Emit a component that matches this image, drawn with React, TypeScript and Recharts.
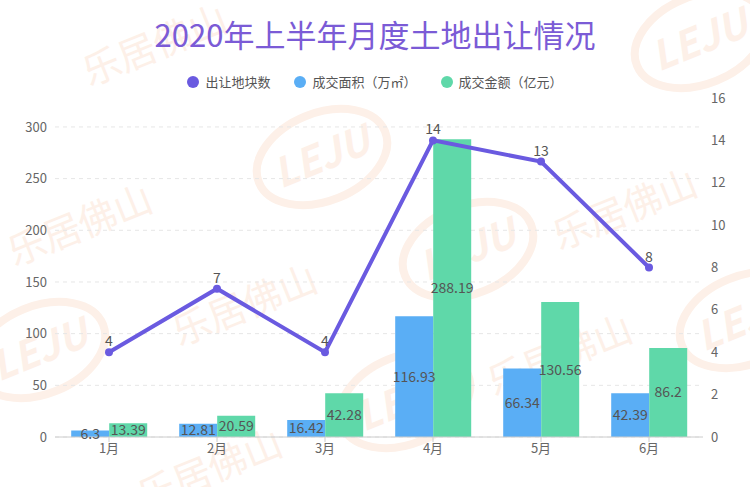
import React from "react";
import {
  ComposedChart,
  Bar,
  Line,
  XAxis,
  YAxis,
  CartesianGrid,
  LabelList,
} from "recharts";

const months = ["1月", "2月", "3月", "4月", "5月", "6月"];
const plots = [4, 7, 4, 14, 13, 8];
const area = [6.3, 12.81, 16.42, 116.93, 66.34, 42.39];
const amount = [13.39, 20.59, 42.28, 288.19, 130.56, 86.2];
const leftTicks = [0, 50, 100, 150, 200, 250, 300];
const rightTicks = [0, 2, 4, 6, 8, 10, 12, 14, 16];

const PURPLE = "#6a5ae0";
const BLUE = "#5aaef5";
const GREEN = "#5fd8a9";
const FONT = '"Noto Sans CJK SC", "Noto Sans", sans-serif';

const data = months.map((m, i) => ({
  month: m,
  plots: plots[i],
  area: area[i],
  amount: amount[i],
}));

const legendItems = [
  { name: "出让地块数", color: PURPLE },
  { name: "成交面积（万㎡）", color: BLUE },
  { name: "成交金额（亿元）", color: GREEN },
];

function ChartLegend() {
  return (
    <div
      style={{
        position: "absolute",
        top: 72,
        left: 0,
        width: 750,
        display: "flex",
        justifyContent: "center",
        gap: 24,
        fontSize: 13,
        color: "#555",
        fontFamily: FONT,
        lineHeight: "20px",
      }}
    >
      {legendItems.map((it) => (
        <div key={it.name} style={{ display: "flex", alignItems: "center" }}>
          <span
            style={{
              width: 12,
              height: 12,
              borderRadius: 6,
              background: it.color,
              marginRight: 6,
              display: "inline-block",
            }}
          />
          {it.name}
        </div>
      ))}
    </div>
  );
}

// faint "LEJU 乐居佛山" watermark behind the chart
const logoSpots = [
  { x: 322, y: 157 },
  { x: 40, y: 350 },
  { x: 700, y: 40 },
  { x: 468, y: 250 },
  { x: 745, y: 320 },
  { x: 405, y: 400 },
];
const textSpots = [
  { x: 85, y: 238 },
  { x: 250, y: 318 },
  { x: 630, y: 222 },
  { x: 565, y: 368 },
  { x: 215, y: 482 },
  { x: 160, y: 58 },
];

function Watermark() {
  const c = "#fdf0e8";
  return (
    <svg width={750} height={487} style={{ position: "absolute", left: 0, top: 0 }}>
      {logoSpots.map((u, i) => (
        <g key={"u" + i} transform={`rotate(-22 ${u.x} ${u.y})`}>
          <ellipse cx={u.x} cy={u.y} rx={68} ry={44} fill="none" stroke={c} strokeWidth={8} />
          <text
            x={u.x}
            y={u.y + 14}
            textAnchor="middle"
            fontSize={40}
            fontWeight={700}
            fontStyle="italic"
            fill={c}
            fontFamily={FONT}
          >
            LEJU
          </text>
        </g>
      ))}
      {textSpots.map((t, i) => (
        <text
          key={"t" + i}
          x={t.x}
          y={t.y}
          textAnchor="middle"
          fontSize={38}
          fill={c}
          fontFamily={FONT}
          transform={`rotate(-22 ${t.x} ${t.y})`}
        >
          乐居佛山
        </text>
      ))}
    </svg>
  );
}

export default function App() {
  return (
    <div
      style={{
        position: "absolute",
        left: 0,
        top: 0,
        width: 750,
        height: 487,
        background: "#fff",
        fontFamily: FONT,
      }}
    >
      <Watermark />
      <div
        style={{
          position: "absolute",
          top: 12,
          left: 0,
          width: 750,
          textAlign: "center",
          fontSize: 31,
          color: "#7b5bd6",
          fontFamily: FONT,
          lineHeight: "44px",
        }}
      >
        2020年上半年月度土地出让情况
      </div>
      <ChartLegend />
      <div style={{ position: "absolute", left: 0, top: 0 }}>
        <ComposedChart
          width={750}
          height={487}
          data={data}
          margin={{ top: 98, right: 0, bottom: 20, left: 0 }}
          barCategoryGap="15%"
          barGap={0}
        >
          <CartesianGrid
            yAxisId="left"
            vertical={false}
            horizontalValues={leftTicks}
            stroke="#e6e6e6"
            strokeDasharray="4 4"
          />
          <XAxis
            dataKey="month"
            axisLine={{ stroke: "#cccccc" }}
            tickLine={{ stroke: "#cccccc" }}
            tickSize={5}
            height={30}
            tick={{ fontSize: 13, fill: "#666" }}
          />
          <YAxis
            yAxisId="left"
            width={55}
            domain={[0, 328]}
            ticks={leftTicks}
            axisLine={false}
            tickLine={false}
            tick={{ fontSize: 13, fill: "#666" }}
          />
          <YAxis
            yAxisId="right"
            orientation="right"
            width={47}
            domain={[0, 16]}
            ticks={rightTicks}
            axisLine={false}
            tickLine={false}
            tick={{ fontSize: 13, fill: "#666", textAnchor: "start" }}
          />
          <Bar yAxisId="left" dataKey="area" name="成交面积（万㎡）" fill={BLUE} isAnimationActive={false}>
            <LabelList dataKey="area" position="inside" fill="#555" fontSize={14} />
          </Bar>
          <Bar yAxisId="left" dataKey="amount" name="成交金额（亿元）" fill={GREEN} isAnimationActive={false}>
            <LabelList dataKey="amount" position="inside" fill="#555" fontSize={14} />
          </Bar>
          <Line
            yAxisId="right"
            type="linear"
            dataKey="plots"
            name="出让地块数"
            stroke={PURPLE}
            strokeWidth={4}
            dot={{ r: 4, fill: PURPLE, stroke: PURPLE, strokeWidth: 0 }}
            isAnimationActive={false}
          >
            <LabelList dataKey="plots" position="top" offset={6} fill="#555" fontSize={14} />
          </Line>
        </ComposedChart>
      </div>
    </div>
  );
}
